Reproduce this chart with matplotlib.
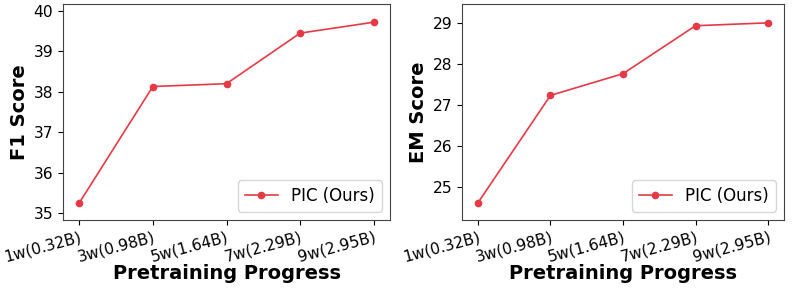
import matplotlib
matplotlib.use('Agg')
import matplotlib.pyplot as plt

# data
steps = ['1w(0.32B)', '3w(0.98B)', '5w(1.64B)', '7w(2.29B)', '9w(2.95B)']
f1_scores = [35.25, 38.13, 38.20, 39.45, 39.72]
em_scores = [24.61, 27.23, 27.76, 28.93, 29.00]

color = '#e63946'
W, H = 793, 289

fig = plt.figure(figsize=(7.93, 2.89), dpi=100)
ax1 = fig.add_axes([63 / W, 1 - 220 / H, 327 / W, 216 / H])
ax2 = fig.add_axes([462 / W, 1 - 220 / H, 322 / W, 216 / H])

panels = [
    (ax1, f1_scores, 'F1 Score', (34.83, 40.17)),
    (ax2, em_scores, 'EM Score', (24.19, 29.46)),
]

for ax, vals, ylabel, ylim in panels:
    x = list(range(len(steps)))
    ax.plot(x, vals, color=color, marker='o', markersize=4.5, linewidth=1.2, label='PIC (Ours)')
    ax.set_xticks(x)
    ax.set_xticklabels(steps, rotation=15, ha='right', rotation_mode='anchor')
    ax.set_ylim(*ylim)
    ax.set_xlim(-0.22, 4.22)
    ax.tick_params(axis='both', labelsize=11.2)
    ax.set_ylabel(ylabel, fontsize=14, fontweight='bold')
    ax.set_xlabel('Pretraining Progress', fontsize=14, fontweight='bold')
    ax.xaxis.set_label_coords(0.5, -0.205)
    ax.yaxis.set_label_coords(-0.105, 0.5)
    ax.legend(loc='lower right', fontsize=12)
    for sp in ax.spines.values():
        sp.set_color('#444444')

plt.savefig('out.png', dpi=100)
